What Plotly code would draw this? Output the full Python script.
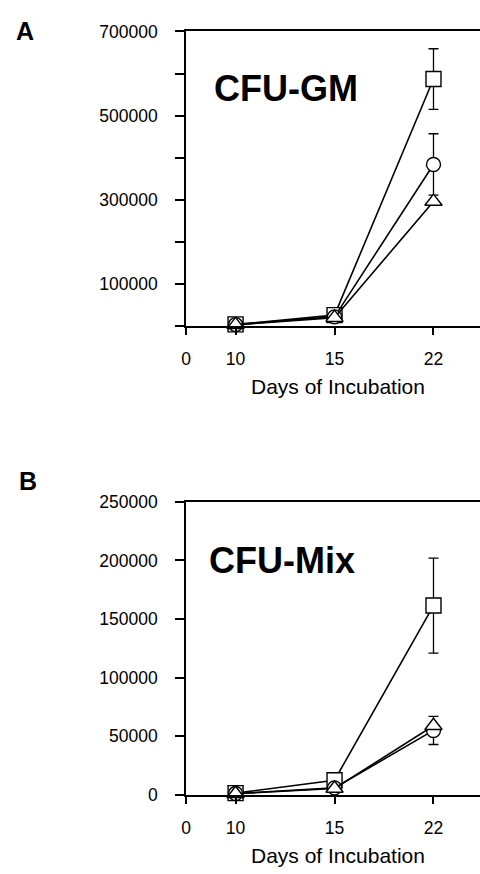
import plotly.graph_objects as go

# ---------------- data ----------------
days = ["10", "15", "22"]
x_tick_labels = ["0", "10", "15", "22"]

# Panel A: CFU-GM
gm_square = [4000, 26000, 587000]
gm_square_err = [0, 0, 72000]
gm_circle = [3500, 22000, 384000]
gm_circle_err = [0, 0, 73000]
gm_triangle = [3000, 20000, 296000]
gm_triangle_err = [0, 0, 0]
gm_yticks = [0, 100000, 200000, 300000, 400000, 500000, 600000, 700000]
gm_yticktext = ["", "100000", "", "300000", "", "500000", "", "700000"]

# Panel B: CFU-Mix
mix_square = [1500, 12500, 161500]
mix_square_err = [0, 0, 40500]
mix_circle = [1200, 6000, 55000]
mix_circle_err = [0, 0, 12000]
mix_triangle = [1000, 5500, 59000]
mix_triangle_err = [0, 0, 0]
mix_yticks = [0, 50000, 100000, 150000, 200000, 250000]
mix_yticktext = ["0", "50000", "100000", "150000", "200000", "250000"]

FONT = "Liberation Sans, Arial, Helvetica, sans-serif"
W, H = 480, 874

fig = go.Figure()

def add_series(y, err, symbol, size, xa, ya):
    fig.add_trace(go.Scatter(
        x=days, y=y, mode="lines+markers",
        xaxis=xa, yaxis=ya,
        line=dict(color="black", width=1.6),
        marker=dict(symbol=symbol, size=size, color="white",
                    line=dict(color="black", width=1.4)),
        error_y=dict(type="data", array=err, visible=True,
                     color="black", thickness=1.3, width=5),
        cliponaxis=False, showlegend=False, hoverinfo="skip"))

add_series(gm_square, gm_square_err, "square", 15, "x", "y")
add_series(gm_circle, gm_circle_err, "circle", 14, "x", "y")
add_series(gm_triangle, gm_triangle_err, "triangle-up", 15, "x", "y")
add_series(mix_square, mix_square_err, "square", 15, "x2", "y2")
add_series(mix_circle, mix_circle_err, "circle", 14, "x2", "y2")
add_series(mix_triangle, mix_triangle_err, "triangle-up", 15, "x2", "y2")

def px_y(p):
    return 1 - p / H

xdom = [183 / W, 1.0]
xaxis_common = dict(
    type="category", range=[-0.5, 2.47],
    tickmode="array", tickvals=[-0.5, 0, 1, 2], ticktext=x_tick_labels,
    showline=True, linecolor="black", linewidth=1.8, mirror=True,
    ticks="outside", ticklen=7, tickwidth=1.5, tickcolor="black",
    showgrid=False, zeroline=False,
    tickfont=dict(family=FONT, size=17.5, color="black"),
    ticklabelstandoff=9,
    domain=xdom,
)
yaxis_common = dict(
    showline=True, linecolor="black", linewidth=1.8,
    ticks="outside", ticklen=9, tickwidth=1.5, tickcolor="black",
    showgrid=False, zeroline=False, tickmode="array",
    tickfont=dict(family=FONT, size=17.5, color="black"),
    ticklabelstandoff=14,
)

fig.update_layout(
    width=W, height=H,
    margin=dict(l=0, r=0, t=0, b=0),
    paper_bgcolor="white", plot_bgcolor="white",
    xaxis=dict(**xaxis_common, anchor="y"),
    yaxis=dict(**yaxis_common, range=[0, 700000], tickvals=gm_yticks,
               ticktext=gm_yticktext, domain=[px_y(323.5), px_y(22)], anchor="x"),
    xaxis2=dict(**xaxis_common, anchor="y2"),
    yaxis2=dict(**yaxis_common, range=[0, 250000], tickvals=mix_yticks,
                ticktext=mix_yticktext, domain=[px_y(803.3), px_y(503.3)], anchor="x2"),
)

annots = [
    dict(text="<b>A</b>", x=20 / W, y=px_y(22), size=25),
    dict(text="<b>B</b>", x=23 / W, y=px_y(482), size=25),
    dict(text="<b>CFU-GM</b>", x=284 / W, y=px_y(80), size=36),
    dict(text="<b>CFU-Mix</b>", x=280 / W, y=px_y(563), size=36),
    dict(text="Days of Incubation", x=337 / W, y=px_y(385), size=21),
    dict(text="Days of Incubation", x=337 / W, y=px_y(865), size=21),
]
for a in annots:
    fig.add_annotation(text=a["text"], x=a["x"], y=a["y"], xref="paper", yref="paper",
                       xanchor="center", yanchor="middle", showarrow=False,
                       font=dict(family=FONT, size=a["size"], color="black"))

fig.write_html("out.html")
